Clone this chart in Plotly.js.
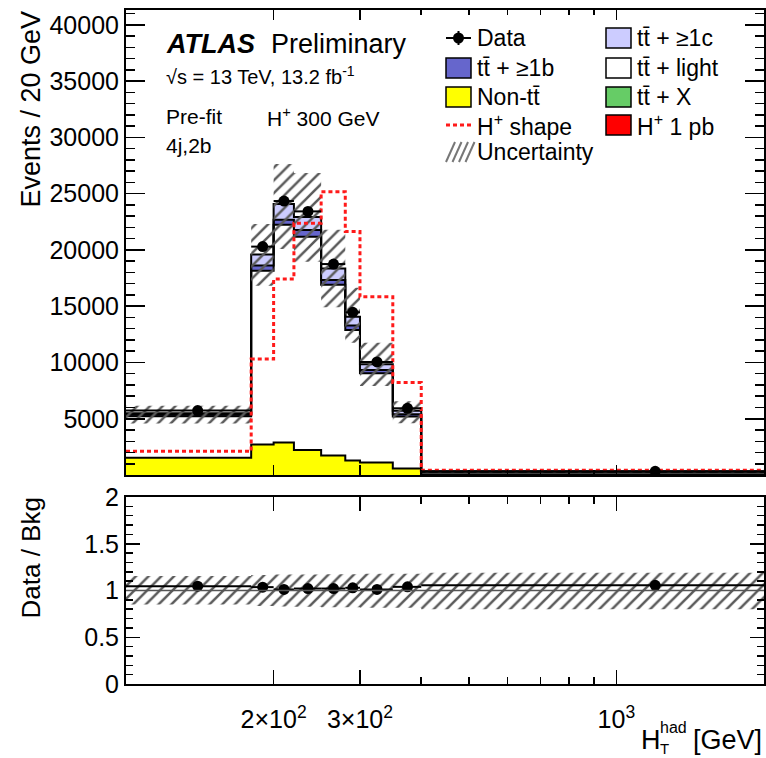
<!DOCTYPE html>
<html>
<head>
<meta charset="utf-8">
<script src="https://cdn.plot.ly/plotly-3.0.1.min.js"></script>
<style>
html,body{margin:0;padding:0;background:#fff;}
#chart{width:766px;height:758px;}
</style>
</head>
<body>
<div id="chart"></div>
<script>
// ---- Data ----
const binEdges   = [100, 180, 200, 220, 250, 280, 300, 350, 400, 2000];
const binCenters = [140, 190, 210, 235, 265, 290, 325, 375, 1200];
const dataEvents = [5730, 20300, 24350, 23430, 18750, 14460, 10050, 5930, 330];
const nonTT      = [1530, 2710, 2880, 2230, 1730, 1280, 1100, 580, 70];
const ttLight    = [3700, 15450, 19370, 18950, 15190, 11610, 7940, 4615, 215];
const tt1b       = [130, 450, 440, 600, 415, 390, 290, 205, 14];
const tt1c       = [120, 990, 1390, 1150, 1015, 790, 520, 310, 14];
const hShape     = [2110, 10310, 17420, 22380, 25180, 21640, 15840, 8220, 420];
const uncHigh    = [6150, 22310, 27650, 26850, 21800, 16650, 11750, 6550, 370];
const uncLow     = [4580, 16830, 20090, 18960, 14900, 11750, 7900, 4600, 250];
const ratioVals  = [1.046, 1.036, 1.011, 1.021, 1.021, 1.029, 1.011, 1.039, 1.055];
const ratioUncHigh = [1.155, 1.165, 1.17, 1.17, 1.175, 1.175, 1.18, 1.18, 1.19];
const ratioUncLow  = [0.85, 0.835, 0.83, 0.825, 0.82, 0.82, 0.815, 0.815, 0.80];
const xTickVals  = [200, 300, 1000];
const xTickText  = ['2\u00d710<sup>2</sup>', '3\u00d710<sup>2</sup>', '10<sup>3</sup>'];
const xMinorVals = [400, 500, 600, 700, 800, 900];
const yTickVals  = [5000, 10000, 15000, 20000, 25000, 30000, 35000, 40000];
const rTickVals  = [0, 0.5, 1, 1.5, 2];
const rTickText  = ['0', '0.5', '1', '1.5', '2'];

// ---- helpers ----
const FONT = 'Liberation Sans, Arial, Helvetica, sans-serif';
const halfW = binCenters.map((c, i) => (binEdges[i + 1] - binEdges[i]) / 2);
const step = v => v.concat([v[v.length - 1]]);
const cumul = (...arrs) => arrs[0].map((_, i) => arrs.reduce((s, a) => s + a[i], 0));
const L = 126, R = 764, T = 10, B = 684;
const px2x = px => (px - L) / (R - L);
const px2y = py => (B - py) / (B - T);

const c1 = nonTT;
const c2 = cumul(nonTT, ttLight);
const c3 = cumul(nonTT, ttLight, tt1b);
const c4 = cumul(nonTT, ttLight, tt1b, tt1c);

const stepLine = (vals, fill, fillcolor) => ({
  x: binEdges, y: step(vals), type: 'scatter', mode: 'lines',
  line: {shape: 'hv', color: 'black', width: 2},
  fill: fill, fillcolor: fillcolor, xaxis: 'x', yaxis: 'y',
  showlegend: false, hoverinfo: 'skip'
});

const traces = [
  stepLine(c1, 'tozeroy', '#ffff00'),
  stepLine(c2, 'tonexty', '#ffffff'),
  stepLine(c3, 'tonexty', '#6666cc'),
  stepLine(c4, 'tonexty', '#ccccff'),
  // uncertainty band main
  {x: binEdges, y: step(uncLow), type: 'scatter', mode: 'lines',
   line: {shape: 'hv', width: 0, color: 'rgba(0,0,0,0)'}, xaxis: 'x', yaxis: 'y',
   showlegend: false, hoverinfo: 'skip'},
  {x: binEdges, y: step(uncHigh), type: 'scatter', mode: 'lines',
   line: {shape: 'hv', width: 0, color: 'rgba(0,0,0,0)'}, xaxis: 'x', yaxis: 'y',
   fill: 'tonexty', fillcolor: 'rgba(0,0,0,0)',
   fillpattern: {shape: '/', size: 9, solidity: 0.28, fgcolor: '#5a5a5a', bgcolor: 'rgba(0,0,0,0)'},
   showlegend: false, hoverinfo: 'skip'},
  // H+ shape
  {x: binEdges, y: step(hShape), type: 'scatter', mode: 'lines',
   line: {shape: 'hv', width: 3, color: '#ff1a1a', dash: '4px,3px'}, xaxis: 'x', yaxis: 'y',
   showlegend: false, hoverinfo: 'skip'},
  // data
  {x: binCenters, y: dataEvents, type: 'scatter', mode: 'markers',
   marker: {color: 'black', size: 11},
   error_x: {type: 'data', array: halfW, width: 0, thickness: 2, color: 'black'},
   xaxis: 'x', yaxis: 'y', showlegend: false, hoverinfo: 'skip'},
  // ratio band
  {x: binEdges, y: step(ratioUncLow), type: 'scatter', mode: 'lines',
   line: {shape: 'hv', width: 0, color: 'rgba(0,0,0,0)'}, xaxis: 'x2', yaxis: 'y2',
   showlegend: false, hoverinfo: 'skip'},
  {x: binEdges, y: step(ratioUncHigh), type: 'scatter', mode: 'lines',
   line: {shape: 'hv', width: 0, color: 'rgba(0,0,0,0)'}, xaxis: 'x2', yaxis: 'y2',
   fill: 'tonexty', fillcolor: 'rgba(0,0,0,0)',
   fillpattern: {shape: '/', size: 9, solidity: 0.28, fgcolor: '#5a5a5a', bgcolor: 'rgba(0,0,0,0)'},
   showlegend: false, hoverinfo: 'skip'},
  // ratio data
  {x: binCenters, y: ratioVals, type: 'scatter', mode: 'markers',
   marker: {color: 'black', size: 11},
   error_x: {type: 'data', array: halfW, width: 0, thickness: 2, color: 'black'},
   xaxis: 'x2', yaxis: 'y2', showlegend: false, hoverinfo: 'skip'}
];

const mainBottom = px2y(475);
const ratioTop = px2y(497);

const axCommon = {
  showline: true, linecolor: 'black', linewidth: 2, mirror: 'allticks',
  ticks: 'inside', tickcolor: 'black', tickwidth: 1.5,
  showgrid: false, zeroline: false,
  tickfont: {family: FONT, size: 25, color: 'black'}
};

const layout = {
  width: 766, height: 758,
  margin: {l: L, r: 766 - R, t: T, b: 758 - B, pad: 0},
  paper_bgcolor: 'white', plot_bgcolor: 'white',
  showlegend: false,
  font: {family: FONT, color: 'black'},
  xaxis: Object.assign({}, axCommon, {
    type: 'log', range: [Math.log10(binEdges[0]), Math.log10(binEdges[binEdges.length - 1])],
    domain: [0, 1], anchor: 'y', showticklabels: false,
    tickmode: 'array', tickvals: xTickVals, ticklen: 10,
    minor: {tickvals: xMinorVals, ticks: 'inside', ticklen: 5, tickcolor: 'black', tickwidth: 1.5, showgrid: false}
  }),
  yaxis: Object.assign({}, axCommon, {
    domain: [mainBottom, 1], anchor: 'x', range: [0, 41330],
    tickmode: 'array', tickvals: yTickVals, tickformat: 'd', ticklen: 19,
    ticklabelstandoff: 0,
    minor: {tickmode: 'linear', tick0: 0, dtick: 1000, ticks: 'inside', ticklen: 9, tickcolor: 'black', tickwidth: 1.5, showgrid: false}
  }),
  xaxis2: Object.assign({}, axCommon, {
    type: 'log', range: [Math.log10(binEdges[0]), Math.log10(binEdges[binEdges.length - 1])],
    domain: [0, 1], anchor: 'y2',
    tickmode: 'array', tickvals: xTickVals, ticktext: xTickText, ticklen: 14,
    ticklabelstandoff: 12,
    minor: {tickvals: xMinorVals, ticks: 'inside', ticklen: 7, tickcolor: 'black', tickwidth: 1.5, showgrid: false}
  }),
  yaxis2: Object.assign({}, axCommon, {
    domain: [0, ratioTop], anchor: 'x2', range: [0, 2],
    tickmode: 'array', tickvals: rTickVals, ticktext: rTickText, ticklen: 14,
    ticklabelstandoff: 0,
    minor: {tickmode: 'linear', tick0: 0, dtick: 0.1, ticks: 'inside', ticklen: 7, tickcolor: 'black', tickwidth: 1.5, showgrid: false}
  }),
  shapes: [],
  annotations: []
};

// ratio reference line
layout.shapes.push({type: 'line', xref: 'paper', yref: 'y2', x0: 0, x1: 1, y0: 1, y1: 1,
  line: {color: '#555', width: 1.5}, layer: 'above'});

// ---- text annotations ----
function txt(text, px, py, size, opts) {
  layout.annotations.push(Object.assign({
    text: text, xref: 'paper', yref: 'paper', x: px2x(px), y: px2y(py),
    xanchor: 'left', yanchor: 'middle', showarrow: false,
    font: {family: FONT, size: size, color: 'black'}, borderpad: 0
  }, opts || {}));
}
txt('<b><i>ATLAS</i></b>', 165, 44, 27);
txt('Preliminary', 270, 44, 27);
txt('\u221As = 13 TeV, 13.2 fb<sup>-1</sup>', 165, 75, 20);
txt('Pre-fit', 165, 117, 21);
txt('H<sup>+</sup> 300 GeV', 266, 117, 21);
txt('4j,2b', 165, 146, 21);

// axis titles
txt('Events / 20 GeV', 30, T, 27, {textangle: -90, xanchor: 'center', yanchor: 'top'});
txt('Data / Bkg', 30, 497, 26, {textangle: -90, xanchor: 'center', yanchor: 'top'});
txt('H', 640, 740, 27);
txt('T', 659, 748, 15);
txt('had', 659, 727, 16);
txt('[GeV]', 692, 740, 27);

// ---- legend (drawn manually, ROOT style, two columns) ----
const rows = [38, 68, 97, 125, 152];
const col1 = 446, col2 = 606, bw = 25, bh = 20;
function box(px, py, color) {
  layout.shapes.push({type: 'rect', xref: 'paper', yref: 'paper',
    x0: px2x(px), x1: px2x(px + bw), y0: px2y(py - bh / 2), y1: px2y(py + bh / 2),
    fillcolor: color, line: {color: 'black', width: 1.5}});
}
// Data symbol
layout.shapes.push({type: 'line', xref: 'paper', yref: 'paper', x0: px2x(col1), x1: px2x(col1 + bw),
  y0: px2y(rows[0]), y1: px2y(rows[0]), line: {color: 'black', width: 2}});
layout.shapes.push({type: 'line', xref: 'paper', yref: 'paper', x0: px2x(col1 + bw / 2), x1: px2x(col1 + bw / 2),
  y0: px2y(rows[0] - 7), y1: px2y(rows[0] + 7), line: {color: 'black', width: 2}});
layout.shapes.push({type: 'circle', xref: 'paper', yref: 'paper',
  x0: px2x(col1 + bw / 2 - 5.5), x1: px2x(col1 + bw / 2 + 5.5),
  y0: px2y(rows[0] - 5.5), y1: px2y(rows[0] + 5.5), fillcolor: 'black', line: {color: 'black', width: 0}});
txt('Data', 476, rows[0], 23);
box(col1, rows[1], '#6666cc'); txt('tt\u0304 + \u22651b', 476, rows[1], 23);
box(col1, rows[2], '#ffff00'); txt('Non-tt\u0304', 476, rows[2], 23);
layout.shapes.push({type: 'line', xref: 'paper', yref: 'paper', x0: px2x(col1), x1: px2x(col1 + bw),
  y0: px2y(rows[3]), y1: px2y(rows[3]), line: {color: '#ff1a1a', width: 3, dash: '4px,3px'}});
txt('H<sup>+</sup> shape', 476, rows[3], 23);
// uncertainty hatch swatch
for (let k = 0; k < 4; k++) {
  const x0 = col1 + k * 6.5;
  layout.shapes.push({type: 'line', xref: 'paper', yref: 'paper',
    x0: px2x(x0), x1: px2x(x0 + 9), y0: px2y(rows[4] + 10), y1: px2y(rows[4] - 10),
    line: {color: '#777', width: 2}});
}
txt('Uncertainty', 476, rows[4], 23);
box(col2, rows[0], '#ccccff'); txt('tt\u0304 + \u22651c', 636, rows[0], 23);
box(col2, rows[1], '#ffffff'); txt('tt\u0304 + light', 636, rows[1], 23);
box(col2, rows[2], '#66cc66'); txt('tt\u0304 + X', 636, rows[2], 23);
box(col2, rows[3], '#ff0000'); txt('H<sup>+</sup> 1 pb', 636, rows[3], 23);

Plotly.newPlot('chart', traces, layout, {staticPlot: true, displayModeBar: false});
</script>
</body>
</html>
